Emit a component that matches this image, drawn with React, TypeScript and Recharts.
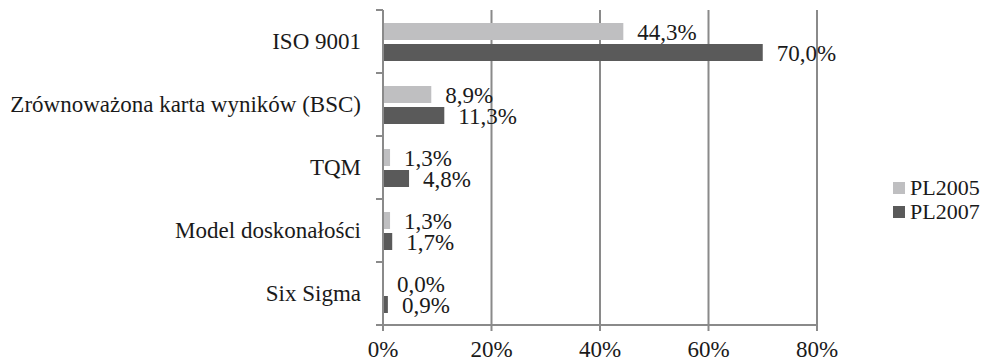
import { BarChart, Bar, XAxis, YAxis, CartesianGrid, Legend, LabelList } from "recharts";

const categories = [
    "ISO 9001",
    "Zrównoważona karta wyników (BSC)",
    "TQM",
    "Model doskonałości",
    "Six Sigma",
];
const pl2005 = [44.3, 8.9, 1.3, 1.3, 0.0];
const pl2007 = [70.0, 11.3, 4.8, 1.7, 0.9];
const xTicks = [0, 20, 40, 60, 80];

const data = categories.map((name, i) => ({
    name,
    PL2005: pl2005[i],
    PL2007: pl2007[i],
}));

const FONT = "'Liberation Serif', 'Times New Roman', serif";
const AXIS = "#8a8a8a";
const LIGHT = "#bfbfc1";
const DARK = "#5a5a5a";
const TEXT = "#1a1a1a";
const MARGIN_TOP = 10;
const X_AXIS_H = 37;
const PLOT_H = 362 - MARGIN_TOP - X_AXIS_H;

const pct = (v: number) => v.toFixed(1).replace(".", ",") + "%";

// category label + Excel-style tick marks between categories
function CategoryTick(props: any) {
    const { x, y, payload, index } = props;
    const step = PLOT_H / categories.length;
    const axisX = x + 22;
    return (
        <g>
            <text x={x} y={y} textAnchor="end" dominantBaseline="central" fontSize={23} fontFamily={FONT} fill={TEXT}>
                {payload.value}
            </text>
            <line x1={axisX - 7} x2={axisX} y1={y - step / 2} y2={y - step / 2} stroke={AXIS} strokeWidth={2} />
            {index === categories.length - 1 && (
                <line x1={axisX - 7} x2={axisX} y1={y + step / 2} y2={y + step / 2} stroke={AXIS} strokeWidth={2} />
            )}
        </g>
    );
}

function ValueLabel(props: any) {
    const { x, y, width, height, value } = props;
    return (
        <text x={x + width + 14} y={y + height / 2 + 1} dominantBaseline="central" fontSize={23} fontFamily={FONT} fill={TEXT}>
            {pct(Number(value))}
        </text>
    );
}

function LegendBox() {
    const items = [
        { label: "PL2005", color: LIGHT },
        { label: "PL2007", color: DARK },
    ];
    return (
        <div style={{ fontFamily: FONT, fontSize: 22, color: TEXT }}>
            {items.map((it) => (
                <div key={it.label} style={{ display: "flex", alignItems: "center", height: 24 }}>
                    <span style={{ display: "inline-block", width: 12, height: 12, background: it.color, marginRight: 5 }} />
                    {it.label}
                </div>
            ))}
        </div>
    );
}

export default function App() {
    return (
        <div style={{ position: "absolute", left: 0, top: 0 }}>
            <BarChart
                width={983}
                height={362}
                data={data}
                layout="vertical"
                margin={{ top: MARGIN_TOP, right: 66, bottom: 0, left: 0 }}
                barSize={17}
                barGap={4}
            >
                <CartesianGrid horizontal={false} stroke={AXIS} strokeWidth={2} />
                <XAxis
                    type="number"
                    domain={[0, 80]}
                    ticks={xTicks}
                    tickFormatter={(v) => `${v}%`}
                    height={X_AXIS_H}
                    stroke={AXIS}
                    strokeWidth={2}
                    tickSize={6}
                    tickMargin={10}
                    tick={{ fontSize: 23, fontFamily: FONT, fill: TEXT }}
                />
                <YAxis
                    type="category"
                    dataKey="name"
                    width={383}
                    stroke={AXIS}
                    strokeWidth={2}
                    tickLine={false}
                    tickSize={7}
                    tickMargin={15}
                    tick={<CategoryTick />}
                    interval={0}
                />
                <Legend
                    layout="vertical"
                    align="right"
                    verticalAlign="middle"
                    content={<LegendBox />}
                    wrapperStyle={{ width: 100, left: 893, top: 176, right: "auto" }}
                />
                <Bar dataKey="PL2005" fill={LIGHT} minPointSize={0.01} isAnimationActive={false}>
                    <LabelList dataKey="PL2005" content={<ValueLabel />} />
                </Bar>
                <Bar dataKey="PL2007" fill={DARK} minPointSize={0.01} isAnimationActive={false}>
                    <LabelList dataKey="PL2007" content={<ValueLabel />} />
                </Bar>
            </BarChart>
        </div>
    );
}
